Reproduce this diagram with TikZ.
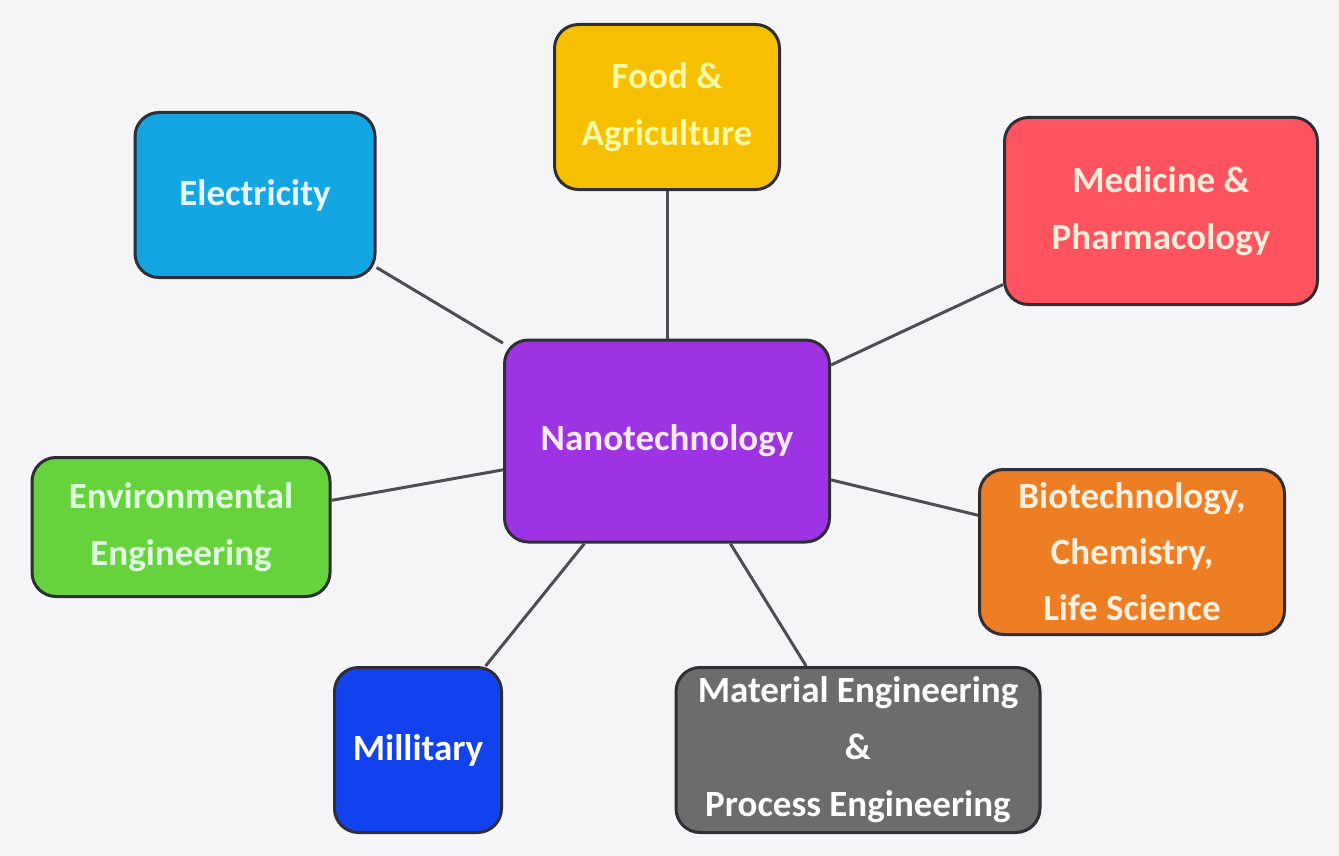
\documentclass[tikz,border=0pt]{standalone}
\usepackage{fontspec}
\setmainfont{Carlito}
\definecolor{bg}{HTML}{F5F5F7}
\definecolor{edgec}{HTML}{2E2E34}
\definecolor{foodc}{HTML}{F6C000}
\definecolor{elecc}{HTML}{14A6E2}
\definecolor{medc}{HTML}{FF5460}
\definecolor{nanoc}{HTML}{9D33E2}
\definecolor{envc}{HTML}{66D23C}
\definecolor{bioc}{HTML}{EE7E24}
\definecolor{milc}{HTML}{1242EE}
\definecolor{matc}{HTML}{6C6C6C}
\begin{document}
\begin{tikzpicture}[x=1pt,y=-1pt,
  box/.style={draw=edgec,line width=3pt,rounded corners=24pt,rectangle,align=center,
    font=\fontsize{37}{57}\selectfont\bfseries,inner sep=0pt},
  link/.style={draw=edgec!85,line width=3pt}]
\fill[bg] (0,0) rectangle (1339,856);
\useasboundingbox (0,0) rectangle (1339,856);
\node[box,fill=foodc,text=yellow!35,minimum width=225pt,minimum height=165pt] (food) at (667,107) {Food \&\\Agriculture};
\node[box,fill=elecc,text=cyan!10,minimum width=240pt,minimum height=165pt] (elec) at (255,195) {Electricity};
\node[box,fill=medc,text=orange!15,minimum width=313pt,minimum height=187pt] (med) at (1161,211) {Medicine \&\\Pharmacology};
\node[box,fill=nanoc,text=violet!8,minimum width=325pt,minimum height=202pt] (nano) at (667,441) {Nanotechnology};
\node[box,fill=envc,text=green!12,minimum width=298pt,minimum height=139pt] (env) at (181,527) {Environmental\\Engineering};
\node[box,fill=bioc,text=orange!12,minimum width=305pt,minimum height=165pt,font=\fontsize{37}{56}\selectfont\bfseries] (bio) at (1132,552) {Biotechnology,\\Chemistry,\\Life Science};
\node[box,fill=milc,text=white,minimum width=167pt,minimum height=165pt] (mil) at (418,750) {Millitary};
\node[box,fill=matc,text=white,minimum width=364pt,minimum height=165pt] (mat) at (858,750) {Material Engineering\\\&\\Process Engineering};
\draw[link] (food) -- (nano);
\draw[link] (elec) -- (nano);
\draw[link] (med) -- (nano);
\draw[link] (env) -- (nano);
\draw[link] (bio) -- (nano);
\draw[link] (mil) -- (nano);
\draw[link] (mat) -- (nano);
\end{tikzpicture}
\end{document}
